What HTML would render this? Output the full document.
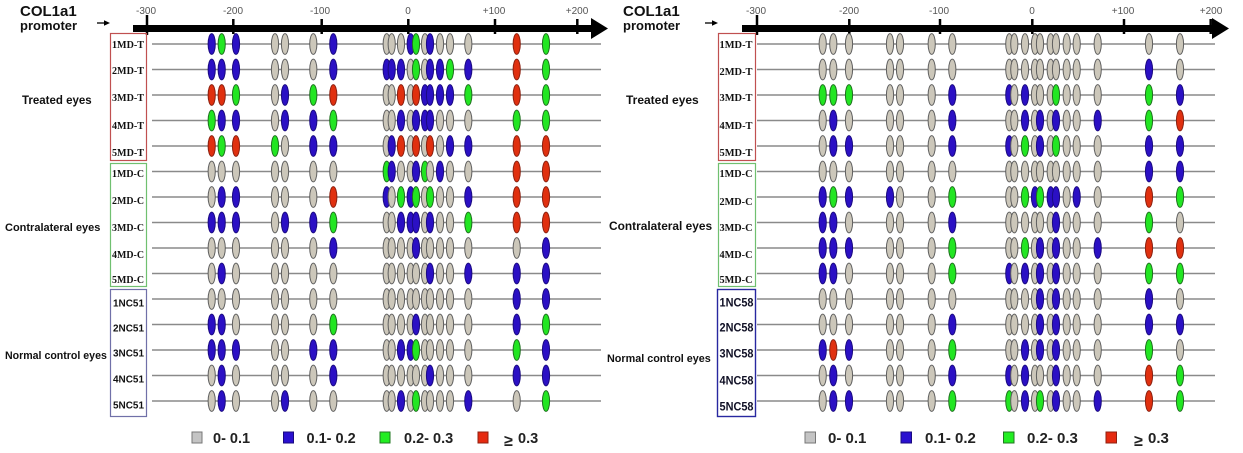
<!DOCTYPE html>
<html><head><meta charset="utf-8">
<style>
html,body{margin:0;padding:0;background:#fff;}
svg{display:block;}
.t{font-family:"Liberation Sans",Arial,sans-serif;font-weight:bold;fill:#111;}
.s{font-family:"Liberation Serif","Times New Roman",serif;font-weight:bold;fill:#111;}
.tk{font-family:"Liberation Sans",Arial,sans-serif;font-size:10px;fill:#555;text-anchor:middle;}
.lg{font-family:"Liberation Sans",Arial,sans-serif;font-weight:bold;fill:#222;}
.rl{stroke:#8a8a8a;stroke-width:1.5;}
.ax{stroke:#000;stroke-width:2.5;}
</style></head><body>
<svg id="c" width="1243" height="453" viewBox="0 0 1243 453" xmlns="http://www.w3.org/2000/svg">
<rect width="1243" height="453" fill="#fff"/>

<!-- LEFT PANEL HEADER -->
<text class="t" x="20" y="16" font-size="15">COL1a1</text>
<text class="t" x="20" y="30" font-size="13">promoter</text>
<line x1="97" y1="23" x2="107" y2="23" stroke="#000" stroke-width="1.3"/>
<polygon points="104,20.3 110,23 104,25.7" fill="#000"/>
<rect x="133" y="25" width="460" height="7" fill="#000"/>
<polygon points="591,18 608,28.5 591,39" fill="#000"/>
<line class="ax" x1="147" y1="15" x2="147" y2="35"/>
<line class="ax" x1="233.3" y1="19" x2="233.3" y2="34"/>
<line class="ax" x1="321.7" y1="19" x2="321.7" y2="34"/>
<line class="ax" x1="408.3" y1="19" x2="408.3" y2="34"/>
<line class="ax" x1="495" y1="19" x2="495" y2="34"/>
<line class="ax" x1="577.3" y1="19" x2="577.3" y2="34"/>
<text class="tk" x="146" y="14">-300</text>
<text class="tk" x="233" y="14">-200</text>
<text class="tk" x="320" y="14">-100</text>
<text class="tk" x="408" y="14">0</text>
<text class="tk" x="494" y="14">+100</text>
<text class="tk" x="577" y="14">+200</text>

<!-- RIGHT PANEL HEADER -->
<text class="t" x="623" y="16" font-size="15">COL1a1</text>
<text class="t" x="623" y="30" font-size="13">promoter</text>
<line x1="705" y1="23" x2="715" y2="23" stroke="#000" stroke-width="1.3"/>
<polygon points="712,20.3 718,23 712,25.7" fill="#000"/>
<rect x="742" y="25" width="472" height="7" fill="#000"/>
<polygon points="1212,18 1229,28.5 1212,39" fill="#000"/>
<line class="ax" x1="757" y1="15" x2="757" y2="35"/>
<line class="ax" x1="849.3" y1="19" x2="849.3" y2="34"/>
<line class="ax" x1="940" y1="19" x2="940" y2="34"/>
<line class="ax" x1="1032.3" y1="19" x2="1032.3" y2="34"/>
<line class="ax" x1="1124" y1="19" x2="1124" y2="34"/>
<line class="ax" x1="1210.7" y1="19" x2="1210.7" y2="34"/>
<text class="tk" x="756" y="14">-300</text>
<text class="tk" x="849" y="14">-200</text>
<text class="tk" x="939" y="14">-100</text>
<text class="tk" x="1032" y="14">0</text>
<text class="tk" x="1123" y="14">+100</text>
<text class="tk" x="1211" y="14">+200</text>

<!-- GROUP LABELS LEFT -->
<text class="t" x="22" y="104" font-size="11.5">Treated eyes</text>
<text class="t" x="5" y="231" font-size="11">Contralateral eyes</text>
<text class="t" x="5" y="359" font-size="10.6">Normal control eyes</text>
<!-- GROUP LABELS RIGHT -->
<text class="t" x="626" y="104" font-size="12">Treated eyes</text>
<text class="t" x="609" y="230" font-size="11.9">Contralateral eyes</text>
<text class="t" x="607" y="362" font-size="10.8">Normal control eyes</text>

<!-- BOXES LEFT -->
<rect x="110.5" y="33.5" width="36" height="127" fill="none" stroke="#c05050" stroke-width="1.2"/>
<rect x="110.5" y="163.5" width="36" height="123" fill="none" stroke="#70c070" stroke-width="1.2"/>
<rect x="110.5" y="289.5" width="36" height="127" fill="none" stroke="#7070a8" stroke-width="1.2"/>
<!-- BOXES RIGHT -->
<rect x="718.5" y="33.5" width="37" height="127" fill="none" stroke="#c05050" stroke-width="1.2"/>
<rect x="718.5" y="163.5" width="37" height="123" fill="none" stroke="#70c070" stroke-width="1.2"/>
<rect x="717.5" y="289.5" width="38" height="127" fill="none" stroke="#2828a0" stroke-width="1.4"/>

<!-- ROW LABELS LEFT -->
<g class="s" font-size="11">
<text x="112" y="48" textLength="32" lengthAdjust="spacingAndGlyphs">1MD-T</text>
<text x="112" y="74" textLength="32" lengthAdjust="spacingAndGlyphs">2MD-T</text>
<text x="112" y="101" textLength="32" lengthAdjust="spacingAndGlyphs">3MD-T</text>
<text x="112" y="129" textLength="32" lengthAdjust="spacingAndGlyphs">4MD-T</text>
<text x="112" y="156" textLength="32" lengthAdjust="spacingAndGlyphs">5MD-T</text>
<text x="112" y="177" textLength="32" lengthAdjust="spacingAndGlyphs">1MD-C</text>
<text x="112" y="204" textLength="32" lengthAdjust="spacingAndGlyphs">2MD-C</text>
<text x="112" y="231" textLength="32" lengthAdjust="spacingAndGlyphs">3MD-C</text>
<text x="112" y="258" textLength="32" lengthAdjust="spacingAndGlyphs">4MD-C</text>
<text x="112" y="283" textLength="32" lengthAdjust="spacingAndGlyphs">5MD-C</text>
</g>
<g class="t" font-size="10">
<text x="113" y="306.5" textLength="31" lengthAdjust="spacingAndGlyphs">1NC51</text>
<text x="113" y="331.5" textLength="31" lengthAdjust="spacingAndGlyphs">2NC51</text>
<text x="113" y="356.5" textLength="31" lengthAdjust="spacingAndGlyphs">3NC51</text>
<text x="113" y="382.5" textLength="31" lengthAdjust="spacingAndGlyphs">4NC51</text>
<text x="113" y="408.5" textLength="31" lengthAdjust="spacingAndGlyphs">5NC51</text>
</g>
<!-- ROW LABELS RIGHT -->
<g class="s" font-size="11">
<text x="719.5" y="48" textLength="33" lengthAdjust="spacingAndGlyphs">1MD-T</text>
<text x="719.5" y="75" textLength="33" lengthAdjust="spacingAndGlyphs">2MD-T</text>
<text x="719.5" y="101" textLength="33" lengthAdjust="spacingAndGlyphs">3MD-T</text>
<text x="719.5" y="129" textLength="33" lengthAdjust="spacingAndGlyphs">4MD-T</text>
<text x="719.5" y="156" textLength="33" lengthAdjust="spacingAndGlyphs">5MD-T</text>
<text x="719.5" y="177" textLength="33" lengthAdjust="spacingAndGlyphs">1MD-C</text>
<text x="719.5" y="205" textLength="33" lengthAdjust="spacingAndGlyphs">2MD-C</text>
<text x="719.5" y="231" textLength="33" lengthAdjust="spacingAndGlyphs">3MD-C</text>
<text x="719.5" y="258" textLength="33" lengthAdjust="spacingAndGlyphs">4MD-C</text>
<text x="719.5" y="283" textLength="33" lengthAdjust="spacingAndGlyphs">5MD-C</text>
</g>
<g class="t" font-size="11.5" style="fill:#111126">
<text x="719.5" y="306.5" textLength="34" lengthAdjust="spacingAndGlyphs">1NC58</text>
<text x="719.5" y="331.5" textLength="34" lengthAdjust="spacingAndGlyphs">2NC58</text>
<text x="719.5" y="357.5" textLength="34" lengthAdjust="spacingAndGlyphs">3NC58</text>
<text x="719.5" y="384.5" textLength="34" lengthAdjust="spacingAndGlyphs">4NC58</text>
<text x="719.5" y="410.5" textLength="34" lengthAdjust="spacingAndGlyphs">5NC58</text>
</g>

<!-- LEGEND LEFT -->
<rect x="192" y="432" width="10" height="11" fill="#c4c4c4" stroke="#777" stroke-width="1"/>
<text class="lg" x="213" y="443" font-size="14.5">0- 0.1</text>
<rect x="283.5" y="432" width="10" height="11" fill="#2a10d0" stroke="#1a0a80" stroke-width="1"/>
<text class="lg" x="306.5" y="443" font-size="14.5">0.1- 0.2</text>
<rect x="380" y="432" width="10" height="11" fill="#22ee22" stroke="#227722" stroke-width="1"/>
<text class="lg" x="404" y="443" font-size="14.5">0.2- 0.3</text>
<rect x="478" y="432" width="10" height="11" fill="#e62a10" stroke="#902010" stroke-width="1"/>
<text class="lg" x="504" y="446" font-size="16">≥</text>
<text class="lg" x="518" y="443" font-size="14.5">0.3</text>

<!-- LEGEND RIGHT -->
<rect x="805" y="432" width="10.5" height="11" fill="#c4c4c4" stroke="#777" stroke-width="1"/>
<text class="lg" x="828" y="443" font-size="15">0- 0.1</text>
<rect x="901" y="432" width="10.5" height="11" fill="#2a10d0" stroke="#1a0a80" stroke-width="1"/>
<text class="lg" x="925" y="443" font-size="15">0.1- 0.2</text>
<rect x="1003.5" y="432" width="10.5" height="11" fill="#22ee22" stroke="#227722" stroke-width="1"/>
<text class="lg" x="1027" y="443" font-size="15">0.2- 0.3</text>
<rect x="1106" y="432" width="10.5" height="11" fill="#e62a10" stroke="#902010" stroke-width="1"/>
<text class="lg" x="1134" y="446" font-size="16">≥</text>
<text class="lg" x="1148" y="443" font-size="15">0.3</text>

<g id="rows"></g>
</svg>
<script>
(function(){
var NS="http://www.w3.org/2000/svg";
var L=[211.7,221.7,236,275,285,313.3,333.3,386.7,391.7,401,410.7,416,425,430,440,450,468.3,516.7,546];
var R=[822.7,833.3,849,890,900,931.7,952.3,1009.3,1014.3,1025,1035,1040,1050.7,1056,1066.7,1076.7,1097.7,1149,1180];
var LR=["bGbgggbgggbGgbgggrG","bbbgggbbbbgGgbbGbrG","rrGgbGrggrgrbbbbGrG","GbbgbbGggbgbbbgggGG","rGrGgbbgbrgrgrgbbrr",
"gggggggGbggbGgbggrr","gbbgggrbgGbGgGggbrr","bbbgbbGggbbbgbggGrr","ggggggbggggbggggggb","gbgggggggggggbggbbb",
"gggggggggggggggggbb","bbggggGggggbgggggbG","bbbggbbggbbGgggggGb","gbggggbggggggbgggbb","gbggbggggbgGggggbgG"];
var RR=["ggggggggggggggggggg","gggggggggggggggggbg","GGGgggbbgbgggGgggGb","gbggggbggbgbgbggbGr","gbbgggbbgGgbgGgggbb",
"gggggggggggggggggbb","bGbbggGggGbGbbgbgrG","bbggggbggggggbgggGg","bbbgggGggGgbgbggbrr","bbggggGbgbgbgbgggGG",
"gggggggggggbgbgggbg","ggggggbggggbgbgggbb","brbgggGggbgbgbgggGg","gbggggbbgbgggbgggrG","gbbgggGGgbgGgbggbrG"];
var C={g:["#ccc7ba","#5e5e5e"],b:["#2b10c4","#1a0a80"],G:["#22e622","#1f6f1f"],r:["#e0300f","#8a2010"]};
var g=document.getElementById("rows");
function el(n,a){var e=document.createElementNS(NS,n);for(var k in a)e.setAttribute(k,a[k]);g.appendChild(e);return e;}
function panel(xs,rows,x1,x2){
  for(var i=0;i<15;i++){
    var y=44+25.5*i;
    el("line",{x1:x1,y1:y,x2:x2,y2:y,"class":"rl"});
    var s=rows[i];
    for(var j=0;j<xs.length;j++){
      var c=C[s.charAt(j)]||C.g;
      el("ellipse",{cx:xs[j],cy:y,rx:3.6,ry:10.4,fill:c[0],stroke:c[1],"stroke-width":1});
    }
  }
}
panel(L,LR,152,601);
panel(R,RR,757,1215);
})();
</script>
</body></html>
